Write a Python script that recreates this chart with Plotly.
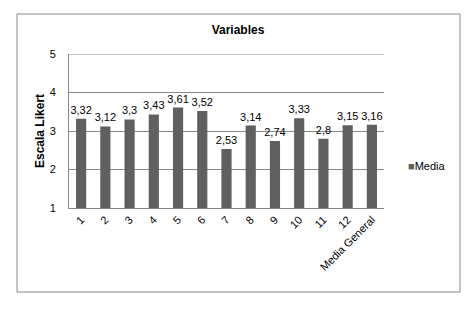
import plotly.graph_objects as go

categories = ["1", "2", "3", "4", "5", "6", "7", "8", "9", "10", "11", "12", "Media General"]
values = [3.32, 3.12, 3.3, 3.43, 3.61, 3.52, 2.53, 3.14, 2.74, 3.33, 2.8, 3.15, 3.16]
labels = [str(v).replace(".", ",") for v in values]

W, H = 476, 311
L, R, T, B = 69, 92, 54, 103
pw, ph = W - L - R, H - T - B

fig = go.Figure()
fig.add_trace(go.Bar(
    x=categories, y=values, name="Media",
    marker=dict(color="#606060", line=dict(width=0)),
    text=labels, textposition="outside", cliponaxis=False, constraintext="none",
    textfont=dict(family="Liberation Sans, Arial", size=11, color="#000"),
    width=0.42, showlegend=False,
))

def px(x):
    return (x - L) / pw

def py(y):
    return (H - B - y) / ph

fig.add_shape(type="rect", xref="paper", yref="paper",
              x0=px(17), x1=px(460), y0=py(292), y1=py(14),
              line=dict(color="#8a8a8a", width=1), fillcolor="rgba(0,0,0,0)", layer="below")
fig.add_shape(type="line", xref="paper", yref="y", x0=0, x1=1, y0=5, y1=5,
              line=dict(color="#888", width=1), layer="below")

fig.add_annotation(xref="paper", yref="paper", x=px(406), y=py(166),
                   xanchor="left", yanchor="middle", showarrow=False,
                   text="<span style='color:#606060'>■</span>Media",
                   font=dict(size=11, color="#000"))
fig.add_annotation(xref="paper", yref="paper", x=px(40), y=py(131),
                   xanchor="center", yanchor="middle", showarrow=False, textangle=-90,
                   text="<b>Escala Likert</b>", font=dict(size=12, color="#000"))

fig.update_layout(
    width=W, height=H,
    margin=dict(l=L, r=R, t=T, b=B),
    paper_bgcolor="white", plot_bgcolor="white",
    font=dict(family="Liberation Sans, Arial", size=11, color="#000"),
    title=dict(text="<b>Variables</b>", x=238 / W, xanchor="center",
               y=1 - 30 / H, yanchor="middle", font=dict(size=12)),
    showlegend=False,
    bargap=0.58,
    xaxis=dict(tickangle=-45, showgrid=False, showline=True, linecolor="#888",
               ticks="", tickfont=dict(size=11), automargin=False),
    yaxis=dict(range=[1, 5], tickvals=[1, 2, 3, 4, 5], showgrid=True, gridcolor="#888", gridwidth=1,
               zeroline=False, showline=True, linecolor="#888", ticks="", automargin=False,
               ticklabelstandoff=10),
)

fig.write_html("out.html", config={"displayModeBar": False},
               post_script="document.body.style.margin='0';")
